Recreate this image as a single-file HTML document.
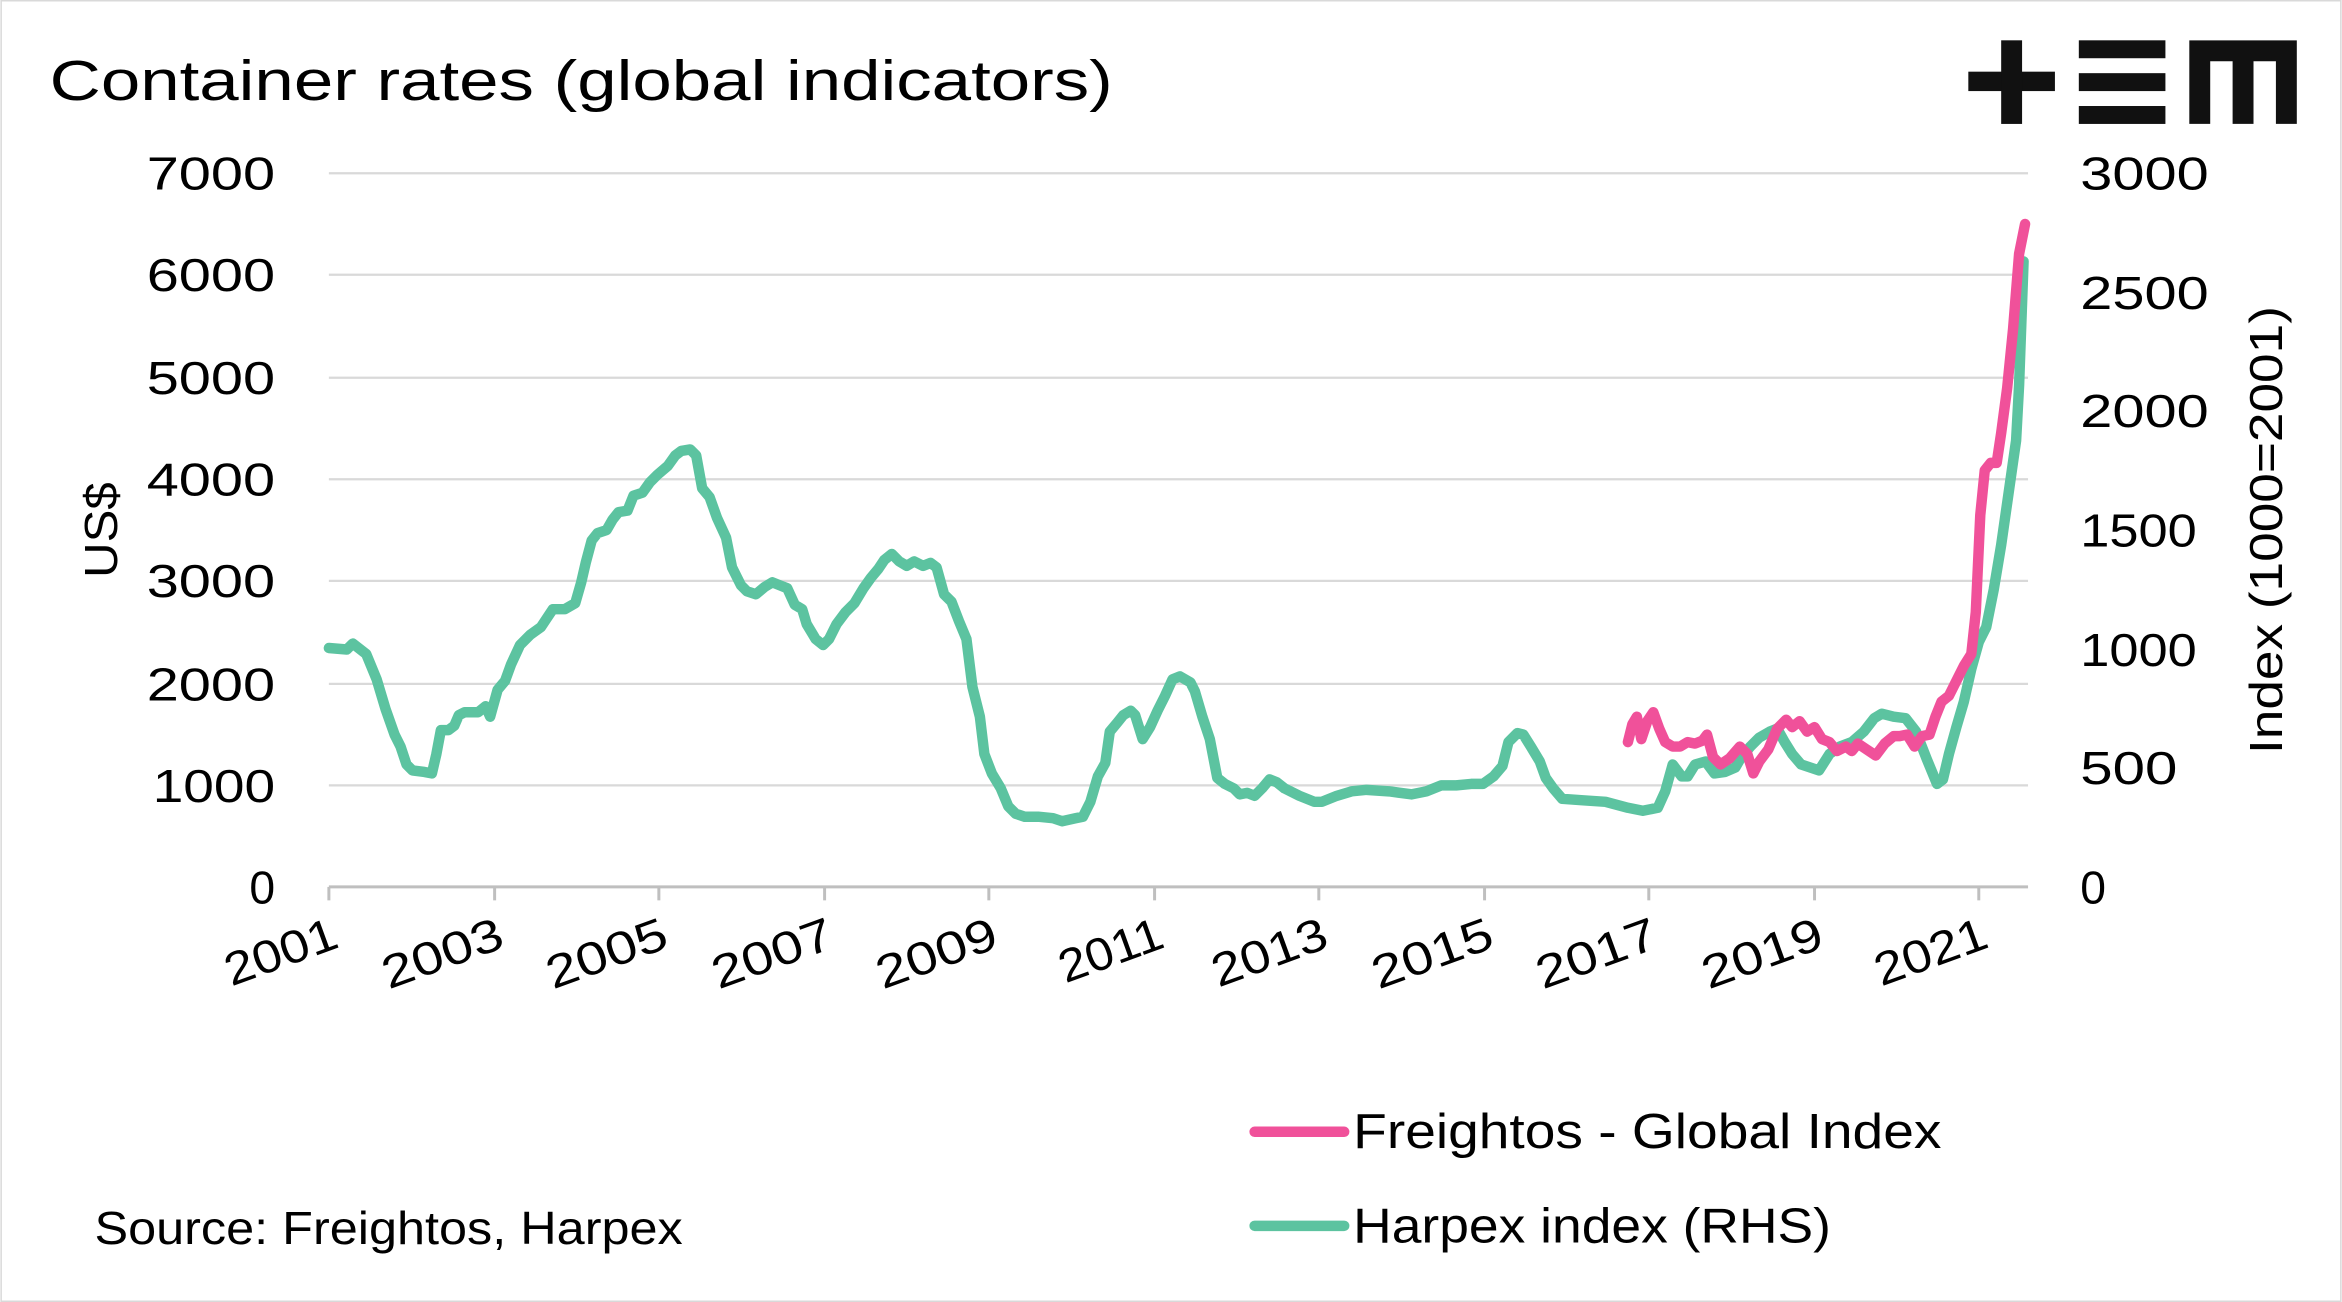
<!DOCTYPE html>
<html><head><meta charset="utf-8"><style>
html,body{margin:0;padding:0;background:#fff;}
svg{display:block;}
text{font-family:"Liberation Sans",sans-serif;fill:#000;}
</style></head><body>
<svg width="2342" height="1302" viewBox="0 0 1568 872" xmlns="http://www.w3.org/2000/svg">
<rect x="0.5" y="0.5" width="1567" height="871" fill="#fff" stroke="#d9d9d9"/>
<text x="33" y="67" font-size="38" textLength="712" lengthAdjust="spacingAndGlyphs">Container rates (global indicators)</text>
<g fill="#111">
<rect x="1318" y="48" width="58" height="13"/><rect x="1340" y="27" width="14" height="56"/>
<rect x="1392" y="27" width="58" height="12"/><rect x="1392" y="49" width="58" height="12"/><rect x="1392" y="71" width="58" height="12"/>
<path d="M1466 83V27h72v56h-14V41h-15v42h-14V41h-15v42z"/>
</g>
<g stroke="#d9d9d9" stroke-width="1.5">
<line x1="220" x2="1358" y1="116" y2="116"/><line x1="220" x2="1358" y1="184" y2="184"/>
<line x1="220" x2="1358" y1="253" y2="253"/><line x1="220" x2="1358" y1="321" y2="321"/>
<line x1="220" x2="1358" y1="389" y2="389"/><line x1="220" x2="1358" y1="458" y2="458"/>
<line x1="220" x2="1358" y1="526" y2="526"/>
</g>
<line x1="220" x2="1358" y1="594" y2="594" stroke="#bfbfbf" stroke-width="2"/>
<g stroke="#bfbfbf" stroke-width="2">
<line x1="220" x2="220" y1="594" y2="603"/><line x1="331" x2="331" y1="594" y2="603"/><line x1="441" x2="441" y1="594" y2="603"/><line x1="552" x2="552" y1="594" y2="603"/><line x1="662" x2="662" y1="594" y2="603"/><line x1="773" x2="773" y1="594" y2="603"/><line x1="883" x2="883" y1="594" y2="603"/><line x1="994" x2="994" y1="594" y2="603"/><line x1="1104" x2="1104" y1="594" y2="603"/><line x1="1215" x2="1215" y1="594" y2="603"/><line x1="1325" x2="1325" y1="594" y2="603"/>
</g>
<g font-size="31" text-anchor="end">
<text x="184" y="127" textLength="86" lengthAdjust="spacingAndGlyphs">7000</text><text x="184" y="195" textLength="86" lengthAdjust="spacingAndGlyphs">6000</text><text x="184" y="264" textLength="86" lengthAdjust="spacingAndGlyphs">5000</text>
<text x="184" y="332" textLength="86" lengthAdjust="spacingAndGlyphs">4000</text><text x="184" y="400" textLength="86" lengthAdjust="spacingAndGlyphs">3000</text><text x="184" y="469" textLength="86" lengthAdjust="spacingAndGlyphs">2000</text>
<text x="184" y="537" textLength="82" lengthAdjust="spacingAndGlyphs">1000</text><text x="184" y="605">0</text>
</g>
<g font-size="31">
<text x="1393" y="127" textLength="86" lengthAdjust="spacingAndGlyphs">3000</text><text x="1393" y="207" textLength="86" lengthAdjust="spacingAndGlyphs">2500</text><text x="1393" y="286" textLength="86" lengthAdjust="spacingAndGlyphs">2000</text>
<text x="1393" y="366" textLength="78" lengthAdjust="spacingAndGlyphs">1500</text><text x="1393" y="446" textLength="78" lengthAdjust="spacingAndGlyphs">1000</text><text x="1393" y="525" textLength="65" lengthAdjust="spacingAndGlyphs">500</text>
<text x="1393" y="605">0</text>
</g>
<text transform="translate(78,355) rotate(-90)" font-size="31" text-anchor="middle" textLength="64" lengthAdjust="spacingAndGlyphs">US$</text>
<text transform="translate(1528,355) rotate(-90)" font-size="31" text-anchor="middle" textLength="300" lengthAdjust="spacingAndGlyphs">Index (1000=2001)</text>
<g font-size="31" text-anchor="end">
<text transform="translate(228,634) rotate(-20)" textLength="78" lengthAdjust="spacingAndGlyphs">2001</text>
<text transform="translate(339,634) rotate(-20)" textLength="84" lengthAdjust="spacingAndGlyphs">2003</text>
<text transform="translate(449,634) rotate(-20)" textLength="84" lengthAdjust="spacingAndGlyphs">2005</text>
<text transform="translate(560,634) rotate(-20)" textLength="84" lengthAdjust="spacingAndGlyphs">2007</text>
<text transform="translate(670,634) rotate(-20)" textLength="84" lengthAdjust="spacingAndGlyphs">2009</text>
<text transform="translate(781,634) rotate(-20)" textLength="72" lengthAdjust="spacingAndGlyphs">2011</text>
<text transform="translate(891,634) rotate(-20)" textLength="80" lengthAdjust="spacingAndGlyphs">2013</text>
<text transform="translate(1002,634) rotate(-20)" textLength="84" lengthAdjust="spacingAndGlyphs">2015</text>
<text transform="translate(1112,634) rotate(-20)" textLength="84" lengthAdjust="spacingAndGlyphs">2017</text>
<text transform="translate(1223,634) rotate(-20)" textLength="84" lengthAdjust="spacingAndGlyphs">2019</text>
<text transform="translate(1333,634) rotate(-20)" textLength="78" lengthAdjust="spacingAndGlyphs">2021</text>
</g>
<polyline fill="none" stroke="#5cc3a0" stroke-width="7" stroke-linejoin="round" stroke-linecap="round" points="220,434 232,435 236,431 245,438 252,455 258,475 264,492 268,500 272,512 276,516 284,517 289,518 292,505 295,489 300,489 304,486 307,479 311,477 320,477 325,473 328,480 333,462 338,456 342,445 348,432 355,425 362,420 366,414 370,408 378,408 385,404 389,390 392,377 396,362 400,357 406,355 410,348 414,343 420,342 424,332 430,330 435,323 440,318 447,312 452,305 456,302 462,301 466,305 470,327 475,333 480,347 486,360 490,380 496,392 500,396 506,398 512,393 517,390 522,392 527,394 532,405 537,408 540,418 546,428 551,432 555,428 560,418 566,410 572,404 578,394 583,387 588,381 592,375 597,371 602,376 607,379 612,376 618,379 623,377 627,380 632,398 637,403 642,416 647,428 651,460 656,480 659,505 664,518 670,528 675,540 680,545 686,547 695,547 705,548 711,550 720,548 725,547 730,537 735,520 740,511 743,490 748,484 752,479 757,476 760,479 765,495 770,487 775,476 780,466 785,455 790,453 797,457 800,463 805,480 810,495 815,521 820,525 826,528 830,532 835,531 840,533 845,528 850,522 855,524 860,528 870,533 880,537 885,537 895,533 905,530 915,529 930,530 945,532 955,530 965,526 975,526 985,525 993,525 1000,520 1006,513 1010,497 1016,491 1020,492 1025,500 1031,510 1035,521 1040,528 1046,535 1060,536 1075,537 1090,541 1100,543 1110,541 1115,530 1120,512 1126,520 1130,520 1135,512 1142,510 1148,518 1155,517 1162,514 1166,507 1172,500 1178,494 1185,490 1190,488 1195,497 1200,505 1206,512 1212,514 1218,516 1225,505 1232,500 1240,497 1248,490 1255,481 1260,478 1268,480 1276,481 1283,490 1290,508 1297,525 1301,522 1305,505 1310,487 1315,470 1320,448 1325,430 1330,420 1335,395 1340,365 1345,330 1350,295 1352,258 1355,175"/>
<polyline fill="none" stroke="#f0519a" stroke-width="7" stroke-linejoin="round" stroke-linecap="round" points="1090,497 1093,485 1096,480 1099,495 1103,483 1107,477 1111,488 1115,497 1120,500 1125,500 1130,497 1135,498 1140,496 1143,492 1147,507 1152,512 1158,508 1165,500 1170,505 1174,518 1178,510 1184,502 1190,488 1196,482 1200,487 1205,483 1210,490 1215,487 1220,495 1225,497 1230,503 1236,500 1240,503 1244,498 1250,502 1256,506 1262,498 1268,493 1272,493 1277,492 1282,500 1287,493 1292,492 1296,480 1300,470 1305,466 1310,456 1315,446 1320,438 1323,410 1326,345 1329,315 1333,310 1337,310 1340,290 1344,260 1348,220 1352,170 1356,150"/>
<line x1="840" x2="900" y1="758" y2="758" stroke="#f0519a" stroke-width="7" stroke-linecap="round"/>
<line x1="840" x2="900" y1="821" y2="821" stroke="#5cc3a0" stroke-width="7" stroke-linecap="round"/>
<text x="906" y="769" font-size="33" textLength="394" lengthAdjust="spacingAndGlyphs">Freightos - Global Index</text>
<text x="906" y="832" font-size="33" textLength="320" lengthAdjust="spacingAndGlyphs">Harpex index (RHS)</text>
<text x="63" y="833" font-size="31" textLength="394" lengthAdjust="spacingAndGlyphs">Source: Freightos, Harpex</text>
</svg>
</body></html>
